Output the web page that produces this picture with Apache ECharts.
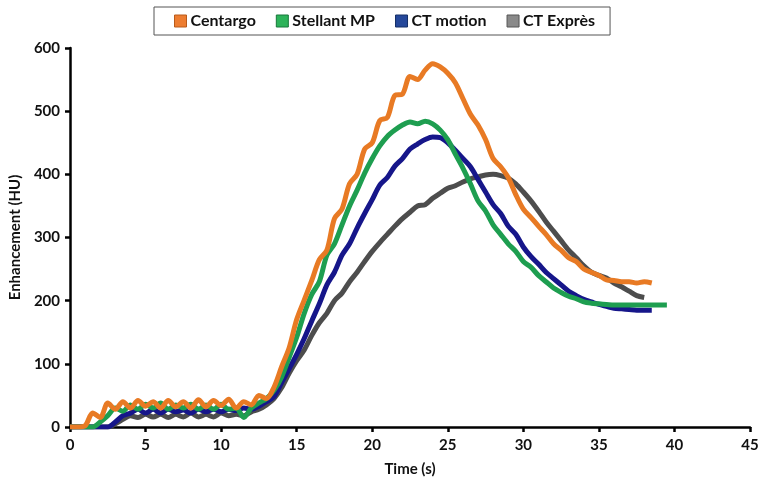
<!DOCTYPE html>
<html>
<head>
<meta charset="utf-8">
<script src="https://cdn.jsdelivr.net/npm/echarts@6/dist/echarts.min.js"></script>
<style>html,body{margin:0;padding:0;background:#fff;}#c{width:762px;height:485px;}</style>
</head>
<body>
<div id="c"></div>
<script>
const seriesNames = ["Centargo", "Stellant MP", "CT motion", "CT Exprès"];
const xTicks = [0, 5, 10, 15, 20, 25, 30, 35, 40, 45];
const yTicks = [0, 100, 200, 300, 400, 500, 600];
// time step 0.5 s starting at 0
const timeStep = 0.5;
const centargo = [0,0,2,22,15,38,28,40,30,42,33,40,30,42,32,40,30,43,32,42,34,44,30,40,35,50,45,63,95,125,170,201,232,265,280,330,345,385,400,440,450,485,490,525,527,555,550,565,575,570,560,545,520,495,478,455,425,412,395,368,345,332,318,305,290,280,268,262,250,245,240,233,232,230,230,228,230,228];
const stellant = [0,0,0,0,8,18,30,25,35,28,36,30,38,28,35,30,36,28,35,28,36,28,30,15,30,38,45,58,79,110,142,180,210,230,272,290,320,350,375,402,425,445,460,470,478,483,480,484,480,470,455,432,410,385,358,342,320,305,290,278,262,253,240,230,220,213,207,203,198,196,195,194,193,193,193,193,193,193,193,193];
const ctMotion = [0,0,0,0,0,0,8,18,22,28,22,28,22,28,24,27,22,28,24,28,24,28,26,30,28,33,40,48,70,92,115,140,168,195,225,245,272,290,315,338,360,383,395,413,425,440,448,455,459,458,450,438,425,412,392,372,352,338,318,305,285,270,258,245,235,225,215,208,202,198,194,191,188,187,186,185,185,185];
const ctExpres = [0,0,0,0,0,0,5,12,18,15,20,16,20,15,20,16,22,16,20,16,22,18,20,18,24,28,35,45,62,85,105,122,145,165,180,200,212,230,245,262,278,292,305,318,330,340,350,352,362,370,378,382,388,393,396,399,400,398,394,385,372,358,342,325,310,295,280,268,255,245,240,236,228,222,215,208,205];

const lineColors = ["#E87A24", "#1E9E50", "#16168A", "#4D4D4D"];
const iconColors = ["#ED7D31", "#2DB35A", "#25489A", "#8A8A8A"];
const iconBorders = ["#B85A1A", "#17773A", "#142E66", "#555555"];

function pairs(arr) { return arr.map((v, i) => [i * timeStep, v]); }
const allData = [centargo, stellant, ctMotion, ctExpres];

const chart = echarts.init(document.getElementById('c'), null, {renderer: 'canvas'});
const font = 'Lato, "Open Sans", sans-serif';
chart.setOption({
  animation: false,
  backgroundColor: '#fff',
  legend: {
    left: 154, top: 7,
    padding: [6, 15, 6, 20],
    borderColor: '#555', borderWidth: 1,
    itemWidth: 12, itemHeight: 12, itemGap: 20,
    icon: 'rect',
    textStyle: {fontFamily: font, fontWeight: 'bold', fontSize: 16, color: '#111', padding: [0,0,0,-1]},
    data: seriesNames.map((n, i) => ({name: n, itemStyle: {color: iconColors[i], borderColor: iconBorders[i], borderWidth: 1}}))
  },
  grid: {left: 68, right: 12, top: 48, bottom: 58, containLabel: false},
  xAxis: {
    type: 'value', min: 0, max: 45, interval: 5,
    name: 'Time (s)', nameLocation: 'middle', nameGap: 35,
    nameTextStyle: {fontFamily: font, fontWeight: 'bold', fontSize: 15, color: '#111'},
    axisLine: {lineStyle: {color: '#000', width: 2.5}},
    axisTick: {show: true, inside: false, length: 5, lineStyle: {color: '#000', width: 2.5}},
    axisLabel: {fontFamily: font, fontWeight: 'bold', fontSize: 15, color: '#111', margin: 11},
    splitLine: {show: false}
  },
  yAxis: {
    type: 'value', min: 0, max: 600, interval: 100,
    name: 'Enhancement (HU)', nameLocation: 'middle', nameGap: 45,
    nameTextStyle: {fontFamily: font, fontWeight: 'bold', fontSize: 15, color: '#111'},
    axisLine: {show: true, lineStyle: {color: '#000', width: 2.5}},
    axisTick: {show: true, inside: false, length: 5, lineStyle: {color: '#000', width: 2.5}},
    axisLabel: {fontFamily: font, fontWeight: 'bold', fontSize: 15, color: '#111', margin: 10},
    splitLine: {show: false}
  },
  series: seriesNames.map((n, i) => ({
    name: n, type: 'line', data: pairs(allData[i]),
    showSymbol: false, smooth: 0.3,
    itemStyle: {color: iconColors[i]},
    lineStyle: {color: lineColors[i], width: 5},
    z: 10 - i
  }))
});
</script>
</body>
</html>
